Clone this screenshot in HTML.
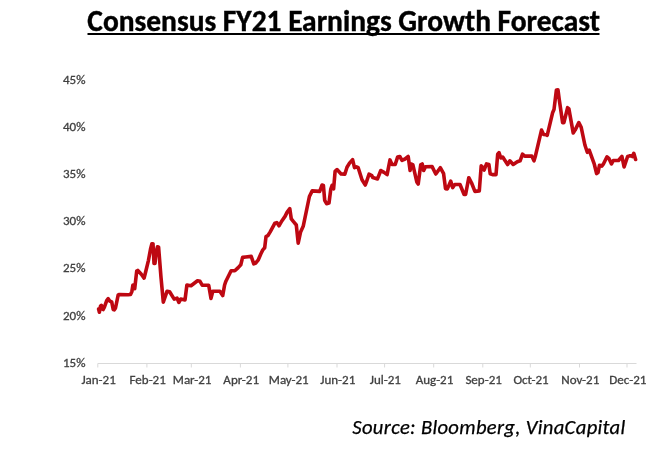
<!DOCTYPE html>
<html><head><meta charset="utf-8"><style>
html,body{margin:0;padding:0;background:#fff;}
body{width:668px;height:456px;overflow:hidden;position:relative;}
.title{position:absolute;left:0;top:0;width:668px;height:456px;}
svg{position:absolute;left:0;top:0;}
</style></head><body>
<svg width="668" height="456" viewBox="0 0 668 456">
<text x="343.6" y="30.7" text-anchor="middle" font-family="Carlito, 'Liberation Sans', sans-serif" font-weight="bold" font-size="29.45" fill="#000" stroke="#000" stroke-width="0.4" textLength="512.5" lengthAdjust="spacingAndGlyphs">Consensus FY21 Earnings Growth Forecast</text>
<rect x="87.5" y="33" width="512" height="2" fill="#000"/>
<g font-family="Carlito, 'Liberation Sans', sans-serif" font-size="13" fill="#404040" stroke="#404040" stroke-width="0.3" text-anchor="end"><text x="85.5" y="84.0" textLength="22.48" lengthAdjust="spacingAndGlyphs">45%</text><text x="85.5" y="131.1" textLength="22.48" lengthAdjust="spacingAndGlyphs">40%</text><text x="85.5" y="178.2" textLength="22.48" lengthAdjust="spacingAndGlyphs">35%</text><text x="85.5" y="225.3" textLength="22.48" lengthAdjust="spacingAndGlyphs">30%</text><text x="85.5" y="272.4" textLength="22.48" lengthAdjust="spacingAndGlyphs">25%</text><text x="85.5" y="319.5" textLength="22.48" lengthAdjust="spacingAndGlyphs">20%</text><text x="85.5" y="366.6" textLength="22.48" lengthAdjust="spacingAndGlyphs">15%</text></g>
<g stroke="#d9d9d9" stroke-width="1" fill="none"><line x1="97.8" y1="363.5" x2="636.5" y2="363.5"/><line x1="97.8" y1="363.5" x2="97.8" y2="367.5"/><line x1="146.9" y1="363.5" x2="146.9" y2="367.5"/><line x1="191.3" y1="363.5" x2="191.3" y2="367.5"/><line x1="240.4" y1="363.5" x2="240.4" y2="367.5"/><line x1="287.9" y1="363.5" x2="287.9" y2="367.5"/><line x1="337.0" y1="363.5" x2="337.0" y2="367.5"/><line x1="384.6" y1="363.5" x2="384.6" y2="367.5"/><line x1="433.7" y1="363.5" x2="433.7" y2="367.5"/><line x1="482.8" y1="363.5" x2="482.8" y2="367.5"/><line x1="530.3" y1="363.5" x2="530.3" y2="367.5"/><line x1="579.5" y1="363.5" x2="579.5" y2="367.5"/><line x1="627.0" y1="363.5" x2="627.0" y2="367.5"/></g>
<g font-family="Carlito, 'Liberation Sans', sans-serif" font-size="13" fill="#404040" stroke="#404040" stroke-width="0.3" text-anchor="middle"><text x="98.6" y="384.1" textLength="34.38" lengthAdjust="spacingAndGlyphs">Jan-21</text><text x="147.7" y="384.1" textLength="36.25" lengthAdjust="spacingAndGlyphs">Feb-21</text><text x="192.1" y="384.1" textLength="38.66" lengthAdjust="spacingAndGlyphs">Mar-21</text><text x="241.2" y="384.1" textLength="35.67" lengthAdjust="spacingAndGlyphs">Apr-21</text><text x="288.7" y="384.1" textLength="39.86" lengthAdjust="spacingAndGlyphs">May-21</text><text x="337.8" y="384.1" textLength="34.97" lengthAdjust="spacingAndGlyphs">Jun-21</text><text x="385.4" y="384.1" textLength="31.13" lengthAdjust="spacingAndGlyphs">Jul-21</text><text x="434.5" y="384.1" textLength="37.64" lengthAdjust="spacingAndGlyphs">Aug-21</text><text x="483.6" y="384.1" textLength="36.44" lengthAdjust="spacingAndGlyphs">Sep-21</text><text x="531.1" y="384.1" textLength="35.22" lengthAdjust="spacingAndGlyphs">Oct-21</text><text x="580.3" y="384.1" textLength="37.92" lengthAdjust="spacingAndGlyphs">Nov-21</text><text x="627.8" y="384.1" textLength="37.13" lengthAdjust="spacingAndGlyphs">Dec-21</text></g>
<path d="M98.6 309.1 L99.4 312.2 L100.5 306.0 L101.3 305.3 L102 308.7 L103.2 309.5 L104.4 307.2 L106.7 300.7 L108.2 298.7 L109.7 301.0 L111.7 301.8 L113.2 309.5 L114.3 309.9 L115.5 308.0 L118.2 294.9 L119.3 294.5 L128 294.8 L130.5 294.5 L131.9 291.4 L132.9 285.1 L134 285.1 L134.7 288.7 L136.7 271.1 L137.8 270.4 L141.3 274.3 L144.1 278.1 L145.5 272.5 L148.4 260.6 L150.5 249.3 L151.9 243.7 L153 243.7 L154 263.4 L155 263.4 L156.1 252.1 L157.5 246.8 L158.6 247.2 L161 277.4 L163.3 302.2 L167.1 291.2 L169.6 291.7 L174.2 299.1 L177 298.1 L178.9 302.4 L180.7 299.1 L185 300.0 L186.9 285.1 L191 285.7 L197.5 280.7 L200 281.3 L202.2 285.1 L208.7 285.3 L211 298.4 L212.8 291.3 L219.9 291.3 L222.7 295.6 L224.6 285.0 L225.9 281.2 L231.1 270.8 L234.8 270.8 L238.2 267.6 L240.8 264.8 L242.6 257.4 L245.6 257.0 L251.2 256.4 L253.8 263.9 L255.7 263.0 L258.1 260.2 L260.9 253.7 L262.8 249.9 L264.7 247.8 L266 236.6 L267.8 235.7 L270.2 231.9 L274.9 223.2 L276.8 222.6 L279 225.8 L282 220.7 L285.2 216.1 L287 212.4 L289.8 208.7 L291.3 218.9 L293.5 221.7 L296.3 225.0 L298.2 243.1 L300.6 231.9 L303.2 226.3 L309.4 196.5 L312.2 190.9 L319.7 191.4 L322.1 185.0 L323.4 185.4 L324.7 200.3 L326.6 203.7 L329 203.1 L330.8 189.1 L332.1 185.4 L333.6 188.8 L335.1 171.4 L337 169.6 L341.1 173.9 L344.8 174.2 L347 167.2 L349.5 163.1 L352.6 159.7 L354.5 167.7 L356.4 166.8 L358.2 167.7 L362 179.8 L365.3 185.0 L366.8 180.8 L369 174.2 L371.8 175.7 L372.8 177.6 L377.5 178.9 L380.8 170.5 L384 172.4 L387.1 174.6 L390 159.9 L392 164.5 L395.2 164.5 L397.6 157.1 L399.8 156.5 L402 160.3 L405 159.0 L408.2 156.5 L410.1 170.5 L411.4 164.0 L412.9 164.9 L416.8 181.9 L418.2 184.0 L420.7 164.9 L422.2 164.0 L423.7 170.5 L425.5 166.8 L432.1 166.6 L435.8 174.0 L440.3 167.7 L442.1 170.9 L443.6 173.7 L445.5 188.6 L447.4 188.9 L450.7 181.1 L452.6 187.6 L454.8 184.5 L460 184.5 L464.1 194.5 L465.6 194.5 L468.8 177.7 L471.6 183.0 L474.9 191.4 L479.3 190.9 L481.2 165.9 L482.8 167.3 L484.1 170.1 L486.5 163.9 L488.9 164.5 L490.2 173.8 L492.5 174.6 L496 174.6 L497.7 154.2 L499 152.7 L500.9 158.0 L502.7 157.0 L507.6 164.5 L509.8 160.8 L513.2 164.5 L517.3 161.7 L520.1 160.8 L522.5 154.2 L524.7 156.1 L531.8 156.1 L534 160.8 L535.5 155.7 L541.5 130.1 L543.6 134.5 L545.8 134.7 L547.2 135.3 L552.7 112.4 L554 109.6 L556.4 90.0 L558 89.9 L559.2 99.3 L562.6 122.6 L563.9 122.6 L567.6 107.7 L568.9 108.9 L573.2 132.9 L575.1 130.1 L578.8 122.6 L581.2 127.3 L584.9 145.0 L587.3 152.3 L589.2 150.1 L590.3 153.2 L594.3 164.2 L596.6 173.6 L598 172.6 L599.5 165.2 L601.8 166.1 L603.3 164.2 L607 156.8 L608.8 158.3 L611.5 163.9 L613.3 160.5 L618.5 160.5 L621.9 156.4 L624.1 167.0 L627.6 156.5 L629.5 155.9 L631.6 155.7 L632.4 156.5 L633.8 153.3 L635.6 159.5" fill="none" stroke="#BE0812" stroke-width="3.6" stroke-linejoin="round" stroke-linecap="round"/>
<text x="352.3" y="433.8" font-family="Carlito, 'Liberation Sans', sans-serif" font-style="italic" font-size="20.6" fill="#000" stroke="#000" stroke-width="0.25" textLength="272.9" lengthAdjust="spacing">Source: Bloomberg, VinaCapital</text>
</svg>
</body></html>
